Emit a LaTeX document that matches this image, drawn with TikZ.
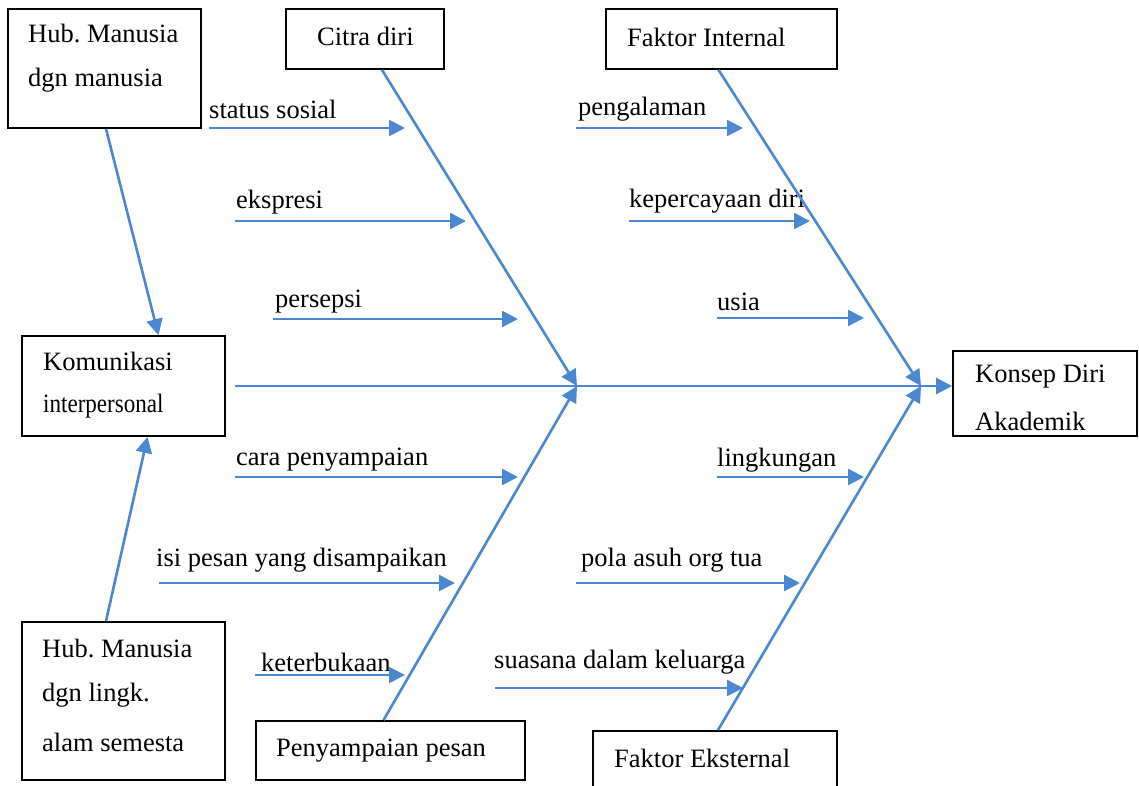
\documentclass[tikz,border=0pt]{standalone}
\usepackage{fontspec}
\usepackage{graphicx}
\setmainfont{Liberation Serif}
\usetikzlibrary{arrows.meta}
\frenchspacing
\definecolor{bone}{RGB}{74,136,210}
\tikzset{
  box/.style={draw=black, line width=1.8pt, rectangle, inner sep=0pt},
  txt/.style={anchor=west, inner sep=0pt, font=\fontsize{26.5}{30}\selectfont},
  bonearrow/.style={draw=bone, line width=2.6pt, -{Triangle[length=16pt,width=16pt]}},
}
\begin{document}
\begin{tikzpicture}[x=1pt,y=-1pt]
\useasboundingbox (0,0) rectangle (1139,785);
% boxes
\node[box, minimum width=193pt, minimum height=119pt] (b1) at (104.5,68.5) {};
\node[box, minimum width=158pt, minimum height=60pt] (citra) at (365,39) {};
\node[box, minimum width=231pt, minimum height=60pt] (fint) at (721.5,39) {};
\node[box, minimum width=203pt, minimum height=100pt] (kom) at (123.5,386) {};
\node[box, minimum width=184pt, minimum height=85pt] (konsep) at (1045,393.5) {};
\node[box, minimum width=203pt, minimum height=158pt] (b2) at (123.5,701) {};
\node[box, minimum width=269pt, minimum height=59pt] (peny) at (390.5,750.5) {};
\node[box, minimum width=244pt, minimum height=70pt] (feks) at (715,766) {};
% box texts
\node[txt] (t1a) at (28,33) {Hub. Manusia};
\node[txt] (t1b) at (28,80) {dgn manusia};
\node[txt] (tc) at (317,36) {Citra diri};
\node[txt] (tf) at (627,37) {Faktor Internal};
\node[txt] (tka) at (43,361) {Komunikasi};
\node[txt] (tkb) at (43,406) {\scalebox{0.87}[1]{interpersonal}};
\node[txt] (tka2) at (975,377) {Konsep Diri};
\node[txt] (tkb2) at (975,421) {Akademik};
\node[txt] (t2a) at (42,648) {Hub. Manusia};
\node[txt] (t2b) at (42,695) {dgn lingk.};
\node[txt] (t2c) at (42,742) {alam semesta};
\node[txt] (tp) at (276,751) {Penyampaian pesan};
\node[txt] (te) at (614,758) {Faktor Eksternal};
% bone labels
\node[txt] (l1) at (209,109) {status sosial};
\node[txt] (l2) at (236,202) {ekspresi};
\node[txt] (l3) at (275,302) {persepsi};
\node[txt] (l4) at (236,460) {cara penyampaian};
\node[txt] (l5) at (156,560) {isi pesan yang disampaikan};
\node[txt] (l6) at (261,662) {keterbukaan};
\node[txt] (r1) at (578,109) {pengalaman};
\node[txt] (r2) at (629,201) {kepercayaan diri};
\node[txt] (r3) at (717,302) {usia};
\node[txt] (r4) at (717,460) {lingkungan};
\node[txt] (r5) at (581,560) {pola asuh org tua};
\node[txt] (r6) at (494,662) {suasana dalam keluarga};
% coordinates
\coordinate (sp0) at (235,386);
\coordinate (j1) at (577,386);
\coordinate (j2) at (921,386);
\coordinate (a1s) at (209,128); \coordinate (a1e) at (405,128);
\coordinate (a2s) at (235,221); \coordinate (a2e) at (466,221);
\coordinate (a3s) at (273,319); \coordinate (a3e) at (518,319);
\coordinate (a4s) at (235,477); \coordinate (a4e) at (518,477);
\coordinate (a5s) at (159,583); \coordinate (a5e) at (455,583);
\coordinate (a6s) at (255,675); \coordinate (a6e) at (405,675);
\coordinate (b1s) at (576,128); \coordinate (b1e) at (743,128);
\coordinate (b2s) at (629,221); \coordinate (b2e) at (810,221);
\coordinate (b3s) at (717,318); \coordinate (b3e) at (864,318);
\coordinate (b4s) at (717,477); \coordinate (b4e) at (864,477);
\coordinate (b5s) at (576,583); \coordinate (b5e) at (800,583);
\coordinate (b6s) at (495,688); \coordinate (b6e) at (743,688);
% spine
\draw[bonearrow] (sp0) -- (sp0 -| konsep.west);
% big bones
\draw[bonearrow] ([xshift=17pt]citra.south) -- (j1);
\draw[bonearrow] ([xshift=-7pt]peny.north) -- (j1);
\draw[bonearrow] ([xshift=-3pt]fint.south) -- (j2);
\draw[bonearrow] ([xshift=3pt]feks.north) -- (j2);
% side boxes
\draw[bonearrow] ([xshift=1.5pt]b1.south) -- ([xshift=35pt]kom.north);
\draw[bonearrow] ([xshift=-17.5pt]b2.north) -- ([xshift=24pt]kom.south);
% small bones
\foreach \p in {a1,a2,a3,a4,a5,a6,b1,b2,b3,b4,b5,b6}
  \draw[bonearrow] (\p s) -- (\p e);
\end{tikzpicture}
\end{document}
